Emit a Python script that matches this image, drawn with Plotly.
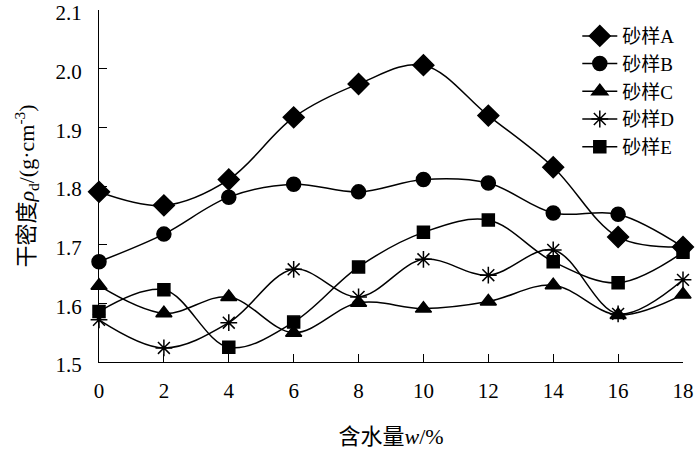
import plotly.graph_objects as go

water = [0, 2, 4, 6, 8, 10, 12, 14, 16, 18]
density_ticks = [1.5, 1.6, 1.7, 1.8, 1.9, 2.0, 2.1]

sand_a = [1.790, 1.767, 1.811, 1.917, 1.974, 2.006, 1.920, 1.832, 1.713, 1.696]
sand_b = [1.671, 1.718, 1.781, 1.803, 1.790, 1.811, 1.805, 1.754, 1.752, 1.696]
sand_c = [1.630, 1.583, 1.611, 1.550, 1.601, 1.591, 1.603, 1.631, 1.580, 1.615]
sand_d = [1.572, 1.524, 1.567, 1.658, 1.611, 1.675, 1.648, 1.691, 1.582, 1.640]
sand_e = [1.586, 1.623, 1.525, 1.568, 1.662, 1.721, 1.742, 1.671, 1.635, 1.687]

names = ["砂样A", "砂样B", "砂样C", "砂样D", "砂样E"]
series = [sand_a, sand_b, sand_c, sand_d, sand_e]
symbols = ["diamond", "circle", "triangle-up", "asterisk-open", "square"]
sizes = [16, 14, 14, 14, 12]

font_family = "Liberation Serif, Times New Roman, Noto Sans CJK SC, serif"

fig = go.Figure()
for name, vals, sym, sz in zip(names, series, symbols, sizes):
    fig.add_trace(go.Scatter(
        x=water, y=vals, name=name, mode="lines+markers",
        line=dict(color="black", width=1.5, shape="spline", smoothing=1.0),
        marker=dict(symbol=sym, size=sz, color="black",
                    line=dict(color="black", width=1.5)),
        cliponaxis=False,
    ))

fig.update_layout(
    width=700, height=450,
    margin=dict(l=99, r=17, t=10, b=88, autoexpand=False),
    paper_bgcolor="white", plot_bgcolor="white",
    font=dict(family=font_family, size=21, color="black"),
    showlegend=True,
    legend=dict(x=0.819, y=0.98, xanchor="left", yanchor="top",
                bgcolor="rgba(0,0,0,0)", itemwidth=35,
                font=dict(size=19), tracegroupgap=0),
    xaxis=dict(
        range=[0, 18], tickvals=water, ticks="inside", ticklen=8,
        tickwidth=1.2, tickcolor="black", showline=True, linecolor="black",
        linewidth=1.2, showgrid=False, zeroline=False, ticklabelstandoff=10,
        ticklabeloverflow="allow", automargin=False,
        title=dict(text="含水量<i>w</i>/%", standoff=26, font=dict(size=22)),
    ),
    yaxis=dict(
        range=[1.5, 2.1], tickvals=density_ticks, tickformat=".1f",
        ticks="inside", ticklen=8, tickwidth=1.2, tickcolor="black",
        showline=True, linecolor="black", linewidth=1.2, showgrid=False,
        zeroline=False, ticklabelstandoff=12, ticklabelshift=3,
        ticklabeloverflow="allow", automargin=False,
        title=dict(text="干密度<i>ρ</i><sub>d</sub>/(g·cm<sup>-3</sup>)",
                   standoff=14, font=dict(size=22)),
    ),
)

# drop the default page margin so the 700x450 figure fills the window
fig.write_html("out.html",
               config={"displayModeBar": False},
               post_script="document.body.style.margin='0';"
                           "document.documentElement.style.overflow='hidden';")
